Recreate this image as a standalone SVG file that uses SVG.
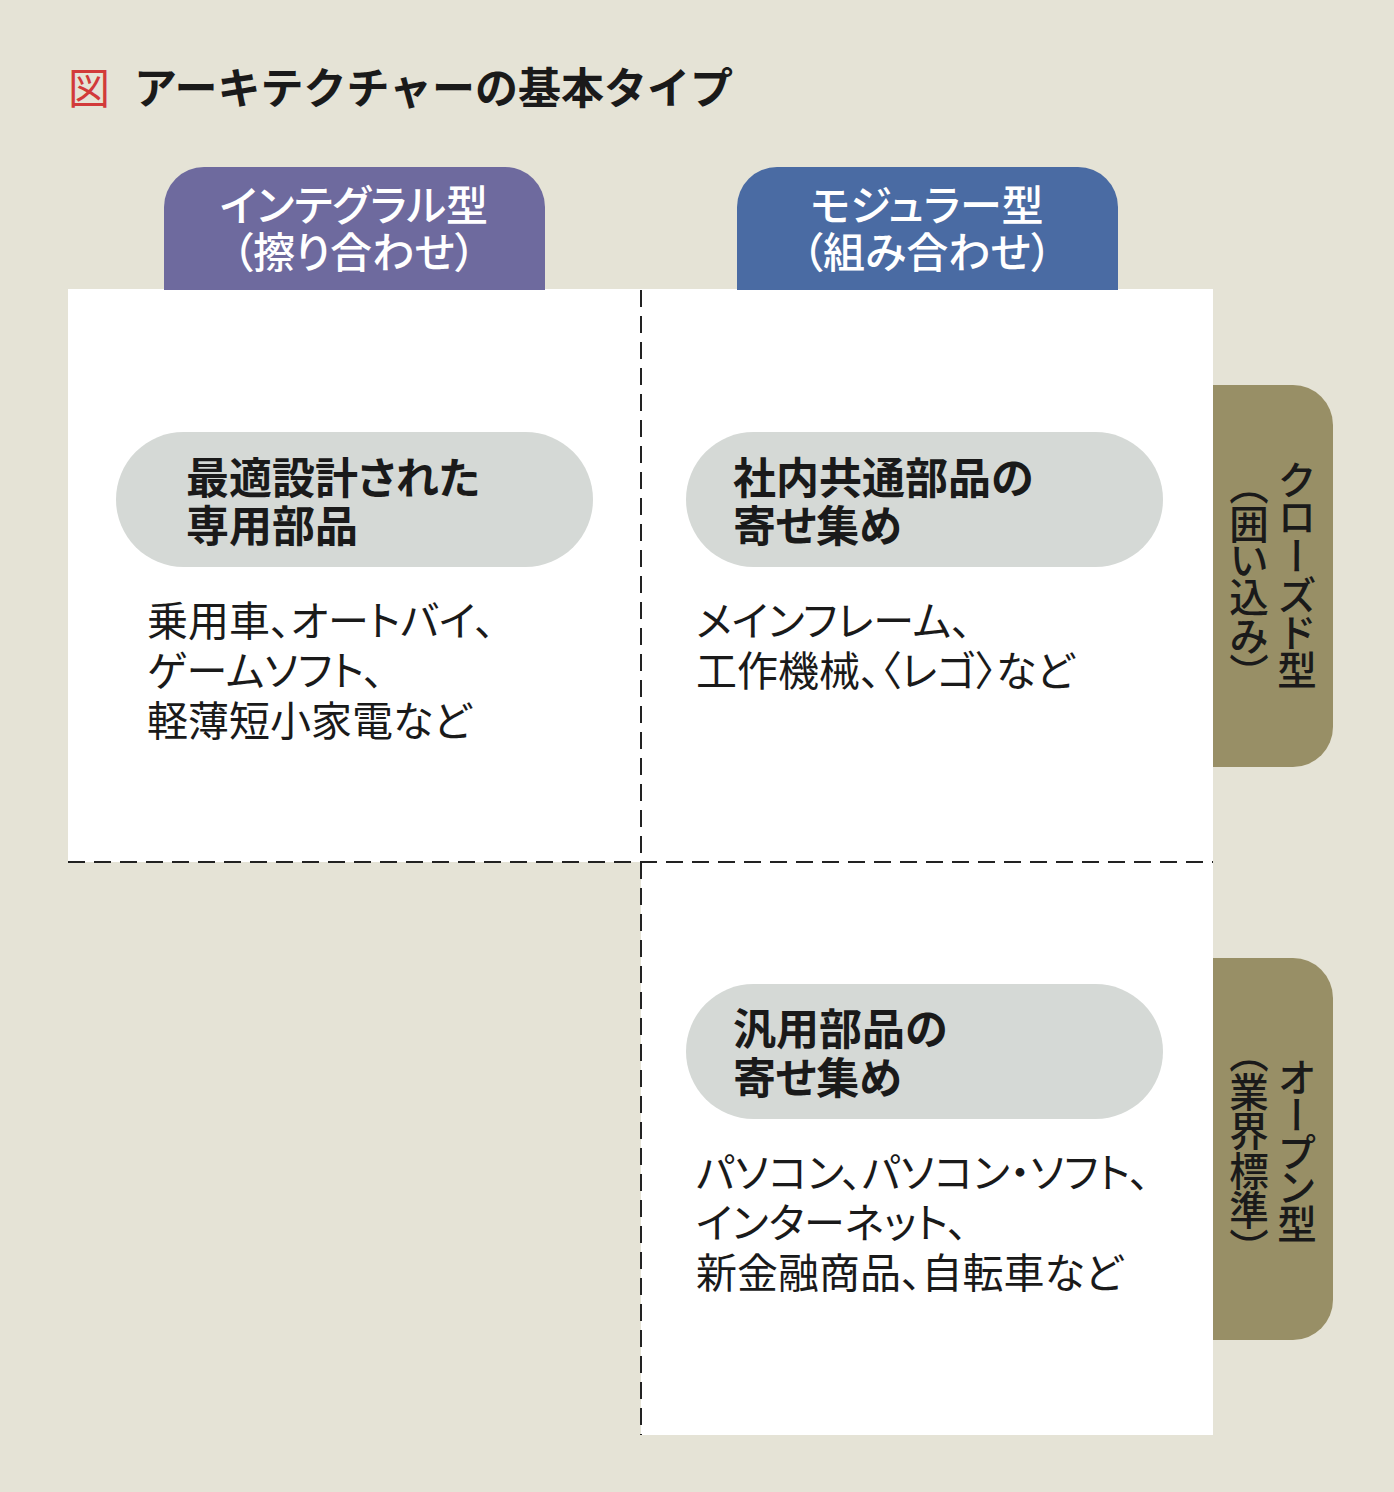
<svg xmlns="http://www.w3.org/2000/svg" width="1394" height="1492" viewBox="0 0 1394 1492">
<style>
text{font-family:"Noto Sans CJK JP","Noto Sans CJK SC",sans-serif;font-feature-settings:"palt";}
.title{font-size:43px;font-weight:700;fill:#1a1a1a;font-feature-settings:normal;}
.hdr{font-size:42px;font-weight:500;fill:#ffffff;text-anchor:middle;}
.pill{fill:#d5d9d6;}
.pt{font-size:43px;font-weight:700;fill:#1a1a1a;}
.bt{font-size:41px;font-weight:400;fill:#1a1a1a;}
.vt{font-size:39.5px;font-weight:500;fill:#1a1a1a;writing-mode:vertical-rl;font-feature-settings:"vpal";}
.dash{stroke:#222;stroke-width:2;stroke-dasharray:17 9;fill:none;}
</style>
<rect x="0" y="0" width="1394" height="1492" fill="#e5e3d6"/>
<g id="title">
<text x="68" y="104" font-size="42" fill="#d23a3a" font-family="Noto Sans CJK JP" font-weight="400">図</text>
<text class="title" x="134" y="104">アーキテクチャーの基本タイプ</text>
</g>
<g id="white-area">
<rect x="68" y="289" width="1145" height="573" fill="#ffffff"/>
<rect x="641" y="861" width="572" height="574" fill="#ffffff"/>
</g>
<g id="header-integral">
<path d="M164,290 V207 A40,40 0 0 1 204,167 H505 A40,40 0 0 1 545,207 V290 Z" fill="#6e6a9e"/>
<text class="hdr" x="354" y="221">インテグラル型</text>
<text class="hdr" x="354" y="268">（擦り合わせ）</text>
</g>
<g id="header-modular">
<path d="M737,290 V207 A40,40 0 0 1 777,167 H1078 A40,40 0 0 1 1118,207 V290 Z" fill="#4a6ba3"/>
<text class="hdr" x="927" y="221">モジュラー型</text>
<text class="hdr" x="927" y="268">（組み合わせ）</text>
</g>
<g id="side-closed">
<path d="M1213,385 H1293 A40,40 0 0 1 1333,425 V727 A40,40 0 0 1 1293,767 H1213 Z" fill="#988f66"/>
<text class="vt" x="1297" y="460">クローズド型</text>
<text class="vt" x="1249" y="484">（囲い込み）</text>
</g>
<g id="side-open">
<path d="M1213,958 H1293 A40,40 0 0 1 1333,998 V1300 A40,40 0 0 1 1293,1340 H1213 Z" fill="#988f66"/>
<text class="vt" x="1297" y="1058">オープン型</text>
<text class="vt" x="1249" y="1052">（業界標準）</text>
</g>
<g id="connectors">
<line class="dash" x1="641" y1="290" x2="641" y2="1435"/>
<line class="dash" x1="68" y1="862" x2="1213" y2="862"/>
</g>
<g id="cell-integral-closed">
<rect class="pill" x="116" y="432" width="477" height="135" rx="67.5"/>
<text class="pt" x="186" y="494">最適設計された</text>
<text class="pt" x="186" y="542">専用部品</text>
<text class="bt" x="147" y="636">乗用車、オートバイ、</text>
<text class="bt" x="147" y="686">ゲームソフト、</text>
<text class="bt" x="147" y="736">軽薄短小家電など</text>
</g>
<g id="cell-modular-closed">
<rect class="pill" x="686" y="432" width="477" height="135" rx="67.5"/>
<text class="pt" x="733" y="494">社内共通部品の</text>
<text class="pt" x="733" y="542">寄せ集め</text>
<text class="bt" x="696" y="636">メインフレーム、</text>
<text class="bt" x="696" y="686">工作機械、〈レゴ〉など</text>
</g>
<g id="cell-modular-open">
<rect class="pill" x="686" y="984" width="477" height="135" rx="67.5"/>
<text class="pt" x="733" y="1045">汎用部品の</text>
<text class="pt" x="733" y="1094">寄せ集め</text>
<text class="bt" x="696" y="1188">パソコン、パソコン・ソフト、</text>
<text class="bt" x="696" y="1238">インターネット、</text>
<text class="bt" x="696" y="1288">新金融商品、自転車など</text>
</g>
</svg>
